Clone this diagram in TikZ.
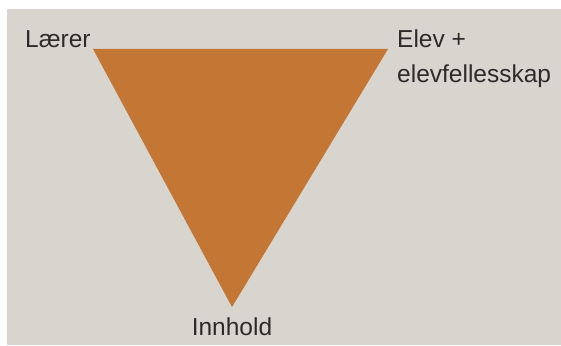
\documentclass[tikz,border=0pt]{standalone}
\usepackage{fontspec}
\setmainfont{Liberation Sans}
\definecolor{paper}{RGB}{216,212,206}
\definecolor{ochre}{RGB}{196,118,52}
\definecolor{ink}{RGB}{45,43,42}

\begin{document}
\begin{tikzpicture}[
  x=1pt, y=-1pt,
  lbl/.style={font=\fontsize{24.5}{35}\selectfont, inner sep=0pt, text=ink, align=left},
]
  \useasboundingbox (0,0) rectangle (561,345);
  \fill[white] (0,0) rectangle (561,345);
  \fill[paper] (7,9) rectangle (561,345);

  % the three corners
  \coordinate (tl)  at (93,49);
  \coordinate (tr)  at (388,49);
  \coordinate (bot) at (232,307);
  \fill[ochre] (tl) -- (tr) -- (bot) -- cycle;

  \node[lbl, anchor=base west] (laerer) at (25,48) {Lærer};
  \node[lbl, anchor=north west] (elev) at (397,30) {Elev +\\elevfellesskap};
  \node[lbl, anchor=base] (innhold) at (232,335) {Innhold};
\end{tikzpicture}
\end{document}
